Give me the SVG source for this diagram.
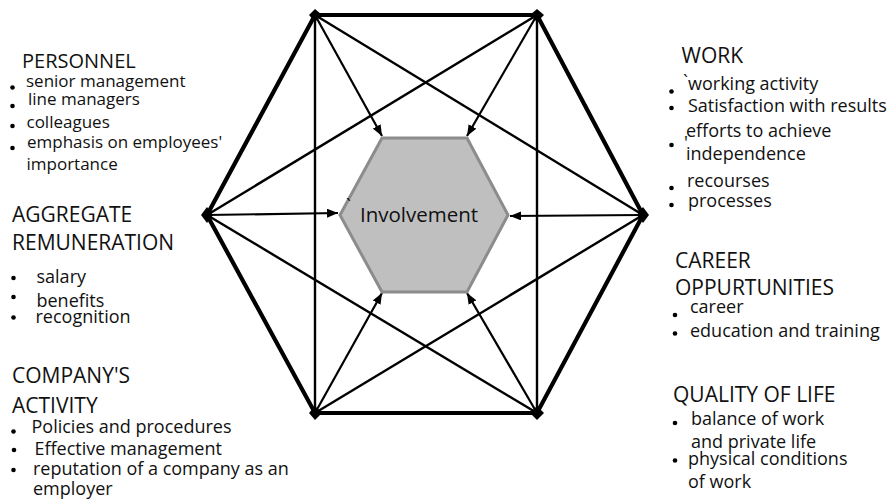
<svg xmlns="http://www.w3.org/2000/svg" width="894" height="500" viewBox="0 0 894 500">
<defs>
<style>
.h{font-family:"Open Sans","Liberation Sans",sans-serif;font-size:21px;fill:#111}
.t{font-family:"Open Sans","Liberation Sans",sans-serif;font-size:18px;fill:#111}
.hs{font-size:20px}
.ts{font-size:17px}
.b{fill:#000}
.ln{stroke:#000;stroke-width:2.4;fill:none}
.ar{stroke:#000;stroke-width:2.2;fill:none;marker-end:url(#ah)}
</style>
<marker id="ah" markerWidth="11" markerHeight="9" refX="11" refY="4.5" orient="auto" markerUnits="userSpaceOnUse"><path d="M0,0 L11,4.5 L0,9 z" fill="#000"/></marker>
</defs>
<rect width="894" height="500" fill="#fff"/>
<g id="connectors">
<polygon points="315,15 537,15 643,215 537,413 315,413 207,215" fill="none" stroke="#000" stroke-width="4.2"/>
<line class="ln" x1="315" y1="15" x2="315" y2="413"/>
<line class="ln" x1="537" y1="15" x2="537" y2="413"/>
<line class="ln" x1="315" y1="15" x2="643" y2="215"/>
<line class="ln" x1="537" y1="15" x2="207" y2="215"/>
<line class="ln" x1="207" y1="215" x2="537" y2="413"/>
<line class="ln" x1="643" y1="215" x2="315" y2="413"/>
<line class="ar" x1="315" y1="15" x2="382" y2="136"/>
<line class="ar" x1="537" y1="15" x2="467" y2="136"/>
<line class="ar" x1="207" y1="215" x2="338" y2="213"/>
<line class="ar" x1="643" y1="215" x2="510" y2="216"/>
<line class="ar" x1="315" y1="413" x2="382" y2="293"/>
<line class="ar" x1="537" y1="413" x2="467" y2="293"/>
<g fill="#000">
<polygon points="315,9 322,15 315,22 309,15"/>
<polygon points="537,9 544,15 537,22 530,15"/>
<polygon points="643,207 649,215 643,223 637,215"/>
<polygon points="207,207 213,215 207,223 201,215"/>
<polygon points="315,406 322,413 315,420 309,413"/>
<polygon points="537,406 544,413 537,420 530,413"/>
</g>
</g>
<g id="involvement">
<polygon points="382,138 467,138 508,215 467,292 382,292 340,215" fill="#bfbfbf" stroke="#8c8c8c" stroke-width="3"/>
<text x="346" y="212" class="t" font-size="12">`</text>
<text x="360" y="221.5" class="t" style="font-size:20.5px">Involvement</text>
</g>
<g id="personnel">
<text x="22" y="68" class="h hs">PERSONNEL</text>
<circle class="b" cx="12.5" cy="87.5" r="2.3"/>
<text x="26" y="87" class="t ts">senior management</text>
<circle class="b" cx="12.5" cy="106" r="2.3"/>
<text x="28" y="105" class="t ts">line managers</text>
<circle class="b" cx="12.5" cy="126" r="2.3"/>
<text x="26.5" y="128" class="t ts">colleagues</text>
<circle class="b" cx="12.5" cy="148" r="2.3"/>
<text x="27" y="148" class="t ts">emphasis on employees'</text>
<text x="26.5" y="170" class="t ts">importance</text>
</g>
<g id="remuneration">
<text x="12" y="222" class="h">AGGREGATE</text>
<text x="12" y="250" class="h">REMUNERATION</text>
<circle class="b" cx="13.5" cy="278" r="2.3"/>
<text x="36.5" y="283" class="t">salary</text>
<circle class="b" cx="13.5" cy="297" r="2.3"/>
<text x="36.5" y="306.5" class="t">benefits</text>
<circle class="b" cx="13.5" cy="317.5" r="2.3"/>
<text x="35.5" y="323" class="t">recognition</text>
</g>
<g id="company">
<text x="12" y="383" class="h">COMPANY'S</text>
<text x="12" y="413" class="h">ACTIVITY</text>
<circle class="b" cx="13.5" cy="431.5" r="2.3"/>
<text x="31.5" y="433" class="t">Policies and procedures</text>
<circle class="b" cx="14" cy="450" r="2.3"/>
<text x="34.5" y="455" class="t">Effective management</text>
<circle class="b" cx="13.5" cy="470" r="2.3"/>
<text x="33" y="475" class="t">reputation of a company as an</text>
<text x="33" y="495" class="t">employer</text>
</g>
<g id="work">
<text x="681.5" y="63" class="h">WORK</text>
<circle class="b" cx="671.5" cy="91.5" r="2.3"/>
<text x="683" y="88" class="t" font-size="10">`</text>
<text x="688" y="90" class="t">working activity</text>
<circle class="b" cx="671.5" cy="108" r="2.3"/>
<text x="688" y="111.5" class="t">Satisfaction with results</text>
<text x="686" y="136.5" class="t">efforts to achieve</text>
<circle class="b" cx="671.5" cy="145" r="2.3"/>
<text x="684" y="149" class="t" font-size="10">'</text>
<text x="686" y="160" class="t">independence</text>
<circle class="b" cx="671.5" cy="188" r="2.3"/>
<text x="687" y="186.5" class="t">recourses</text>
<circle class="b" cx="671.5" cy="205" r="2.3"/>
<text x="688" y="206.5" class="t">processes</text>
</g>
<g id="career">
<text x="675" y="268" class="h">CAREER</text>
<text x="675" y="295" class="h">OPPURTUNITIES</text>
<circle class="b" cx="675" cy="315" r="2.3"/>
<text x="690" y="313" class="t">career</text>
<circle class="b" cx="675" cy="333.5" r="2.3"/>
<text x="690" y="336.5" class="t">education and training</text>
</g>
<g id="quality">
<text x="673" y="401.5" class="h">QUALITY OF LIFE</text>
<circle class="b" cx="675" cy="423" r="2.3"/>
<text x="691" y="425" class="t">balance of work</text>
<text x="691" y="448" class="t">and private life</text>
<circle class="b" cx="675" cy="460.5" r="2.3"/>
<text x="688" y="465" class="t">physical conditions</text>
<text x="688" y="488" class="t">of work</text>
</g>
</svg>
